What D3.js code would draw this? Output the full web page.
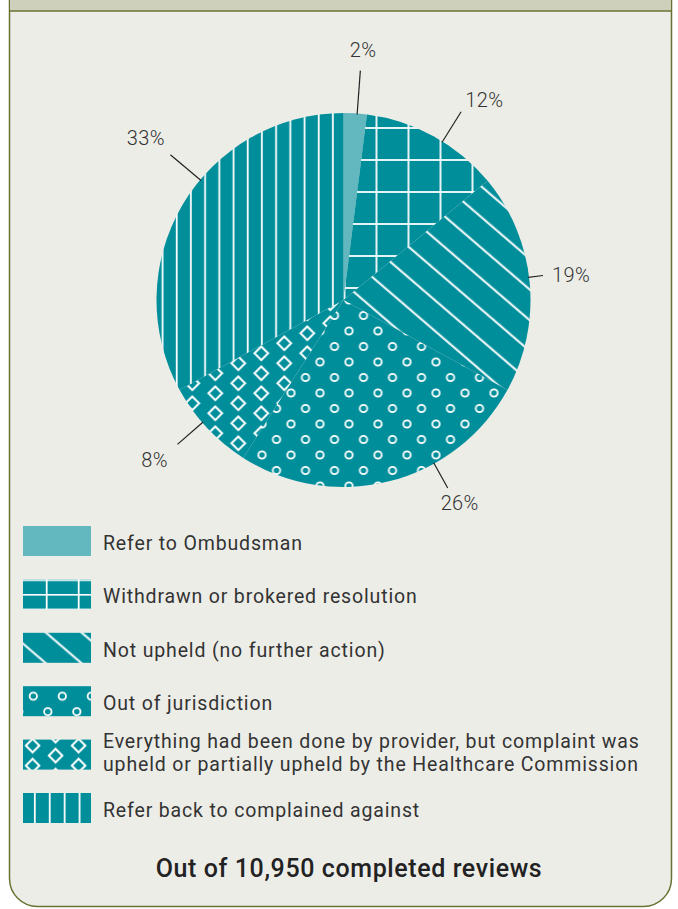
<!DOCTYPE html>
<html>
<head>
<meta charset="utf-8">
<script src="https://cdn.jsdelivr.net/npm/d3@7"></script>
<style>
    body { margin: 0; background: #ffffff; }
    svg { display: block; font-family: Roboto, "DejaVu Sans", sans-serif; }
</style>
</head>
<body>
<div class="chart"></div>
<script>
// Data
const categories = [
    "Refer to Ombudsman",
    "Withdrawn or brokered resolution",
    "Not upheld (no further action)",
    "Out of jurisdiction",
    "Everything had been done by provider, but complaint was upheld or partially upheld by the Healthcare Commission",
    "Refer back to complained against"
];
const percents = [2, 12, 19, 26, 8, 33];
const totalReviews = 10950;

// Layout
const width = 678;
const height = 909;
const center = { x: 343.5, y: 300 };
const radius = 187;
const teal = "#018e9b";
const lightTeal = "#63b8c0";
const textColor = "#333333";

// leader line angle (deg, clockwise from top), outer radius, text offset, anchor
const leaders = [
    { angle: 4.2, outer: 230, dx: 2.7, dy: -13.5, anchor: "middle" },
    { angle: 32, outer: 222, dx: 4, dy: -5, anchor: "start" },
    { angle: 83, outer: 201, dx: 9, dy: 6.5, anchor: "start" },
    { angle: 151, outer: 215, dx: 12, dy: 22, anchor: "middle" },
    { angle: 229, outer: 220, dx: -9.5, dy: 22.7, anchor: "end" },
    { angle: 310, outer: 226, dx: -5.4, dy: -9.7, anchor: "end" }
];

const svg = d3.select(".chart")
    .append("svg")
    .attr("width", width)
    .attr("height", height);

const defs = svg.append("defs");

// Pattern builders
function basePattern(id, w, h, transform) {
    const p = defs.append("pattern")
        .attr("id", id)
        .attr("patternUnits", "userSpaceOnUse")
        .attr("width", w)
        .attr("height", h);
    if (transform) p.attr("patternTransform", transform);
    p.append("rect").attr("width", w).attr("height", h).attr("fill", teal);
    return p;
}

function gridPattern(id, w, h, ox, oy) {
    const p = basePattern(id, w, h);
    p.append("line").attr("x1", ox).attr("x2", ox).attr("y1", 0).attr("y2", h)
        .attr("stroke", "#fff").attr("stroke-width", 1.8);
    p.append("line").attr("x1", 0).attr("x2", w).attr("y1", oy).attr("y2", oy)
        .attr("stroke", "#fff").attr("stroke-width", 1.8);
}

function diagPattern(id, spacing, offset) {
    const p = basePattern(id, 10, spacing, "rotate(40.7)");
    p.append("line").attr("x1", 0).attr("x2", 10).attr("y1", offset).attr("y2", offset)
        .attr("stroke", "#fff").attr("stroke-width", 2);
}

function vertPattern(id, spacing, offset) {
    const p = basePattern(id, spacing, 10);
    p.append("line").attr("x1", offset).attr("x2", offset).attr("y1", 0).attr("y2", 10)
        .attr("stroke", "#fff").attr("stroke-width", 1.8);
}

function wrapPoints(pts, w, h) {
    const out = [];
    pts.forEach(([x, y]) => {
        [-w, 0, w].forEach((sx) => {
            [-h, 0, h].forEach((sy) => out.push([x + sx, y + sy]));
        });
    });
    return out;
}

function circlePattern(id, w, h, pts) {
    const p = basePattern(id, w, h);
    p.selectAll("circle")
        .data(wrapPoints(pts, w, h))
        .enter()
        .append("circle")
        .attr("cx", (d) => d[0])
        .attr("cy", (d) => d[1])
        .attr("r", 3.7)
        .attr("fill", "none")
        .attr("stroke", "#fff")
        .attr("stroke-width", 1.8);
}

function diamondPattern(id, w, h, pts) {
    const p = basePattern(id, w, h);
    const s = 6.8;
    p.selectAll("path")
        .data(wrapPoints(pts, w, h))
        .enter()
        .append("path")
        .attr("d", (d) => `M${d[0]},${d[1] - s}L${d[0] + s},${d[1]}L${d[0]},${d[1] + s}L${d[0] - s},${d[1]}Z`)
        .attr("fill", "none")
        .attr("stroke", "#fff")
        .attr("stroke-width", 2);
}

// pie patterns (origin at pie centre)
gridPattern("grid-pie", 32, 32, 1, 20);
diagPattern("diag-pie", 23.3, 10.4);
circlePattern("circ-pie", 29, 31, [[5.5, 0], [20, 15.5]]);
diamondPattern("diam-pie", 46, 20, [[32.8, 3.3], [9.8, 13.3]]);
vertPattern("vert-pie", 14.2, 3.6);

// legend patterns (origin at swatch corner)
gridPattern("grid-leg", 32, 14.6, 23.7, 0.7);
diagPattern("diag-leg", 23.3, 8.2);
circlePattern("circ-leg", 29, 31, [[10.3, 10], [24.8, 25.5]]);
diamondPattern("diam-leg", 46, 20, [[9.6, 6], [32.6, 16]]);
vertPattern("vert-leg", 14.9, 11.8);

const pieFills = [lightTeal, "url(#grid-pie)", "url(#diag-pie)", "url(#circ-pie)", "url(#diam-pie)", "url(#vert-pie)"];
const legFills = [lightTeal, "url(#grid-leg)", "url(#diag-leg)", "url(#circ-leg)", "url(#diam-leg)", "url(#vert-leg)"];

// Panel
svg.append("rect")
    .attr("x", 9.5)
    .attr("y", -40)
    .attr("width", 662)
    .attr("height", 946.5)
    .attr("rx", 28)
    .attr("fill", "#edede8")
    .attr("stroke", "#6a7232")
    .attr("stroke-width", 1.5);

svg.append("rect")
    .attr("x", 10.25)
    .attr("y", 0)
    .attr("width", 660.5)
    .attr("height", 11)
    .attr("fill", "#cfd0bc");

svg.append("line")
    .attr("x1", 9.5)
    .attr("x2", 671.5)
    .attr("y1", 11)
    .attr("y2", 11)
    .attr("stroke", "#6a7232")
    .attr("stroke-width", 1.5);

// Pie
const pie = d3.pie().sort(null).value((d) => d);
const arcs = pie(percents);
const arc = d3.arc().innerRadius(0).outerRadius(radius);

const pieG = svg.append("g")
    .attr("transform", `translate(${center.x}, ${center.y})`);

pieG.selectAll("path.slice")
    .data(arcs)
    .enter()
    .append("path")
    .attr("class", "slice")
    .attr("d", arc)
    .attr("fill", (d, i) => pieFills[i]);

// Leader lines and labels
const rad = (deg) => (deg * Math.PI) / 180;
const polar = (deg, r) => [r * Math.sin(rad(deg)), -r * Math.cos(rad(deg))];

pieG.selectAll("line.leader")
    .data(arcs)
    .enter()
    .append("line")
    .attr("class", "leader")
    .attr("x1", (d, i) => polar(leaders[i].angle, radius - 1)[0])
    .attr("y1", (d, i) => polar(leaders[i].angle, radius - 1)[1])
    .attr("x2", (d, i) => polar(leaders[i].angle, leaders[i].outer)[0])
    .attr("y2", (d, i) => polar(leaders[i].angle, leaders[i].outer)[1])
    .attr("stroke", "#222")
    .attr("stroke-width", 1.2);

pieG.selectAll("text.pct")
    .data(arcs)
    .enter()
    .append("text")
    .attr("class", "pct")
    .attr("x", (d, i) => polar(leaders[i].angle, leaders[i].outer)[0] + leaders[i].dx)
    .attr("y", (d, i) => polar(leaders[i].angle, leaders[i].outer)[1] + leaders[i].dy)
    .attr("text-anchor", (d, i) => leaders[i].anchor)
    .attr("font-size", 20)
    .attr("font-weight", 300)
    .attr("letter-spacing", 0.4)
    .attr("fill", textColor)
    .text((d) => `${d.data}%`);

// Legend
const legendTop = 526;
const legendStep = 53.4;
const legend = svg.append("g");

categories.forEach((cat, i) => {
    const row = legend.append("g")
        .attr("transform", `translate(23, ${legendTop + i * legendStep})`);
    row.append("rect")
        .attr("width", 68)
        .attr("height", 30)
        .attr("fill", legFills[i]);

    const txt = row.append("text")
        .attr("x", 80)
        .attr("font-size", 19.5)
        .attr("letter-spacing", 0.85)
        .attr("fill", textColor);

    // simple word wrap
    const words = cat.split(" ");
    const lines = [];
    let current = [];
    const probe = txt.append("tspan");
    words.forEach((w) => {
        const test = current.concat(w).join(" ");
        probe.text(test);
        if (probe.node().getComputedTextLength() > 560 && current.length) {
            lines.push(current.join(" "));
            current = [w];
        } else {
            current.push(w);
        }
    });
    lines.push(current.join(" "));
    probe.remove();

    const lineH = 23;
    const firstY = 24 - (lines.length - 1) * 16;
    lines.forEach((l, j) => {
        txt.append("tspan")
            .attr("x", 80)
            .attr("y", firstY + j * lineH)
            .text(l);
    });
});

// Footer
svg.append("text")
    .attr("x", 349)
    .attr("y", 877)
    .attr("text-anchor", "middle")
    .attr("font-size", 25)
    .attr("font-weight", 500)
    .attr("letter-spacing", 0.6)
    .attr("fill", "#222")
    .text(`Out of ${d3.format(",")(totalReviews)} completed reviews`);
</script>
</body>
</html>
